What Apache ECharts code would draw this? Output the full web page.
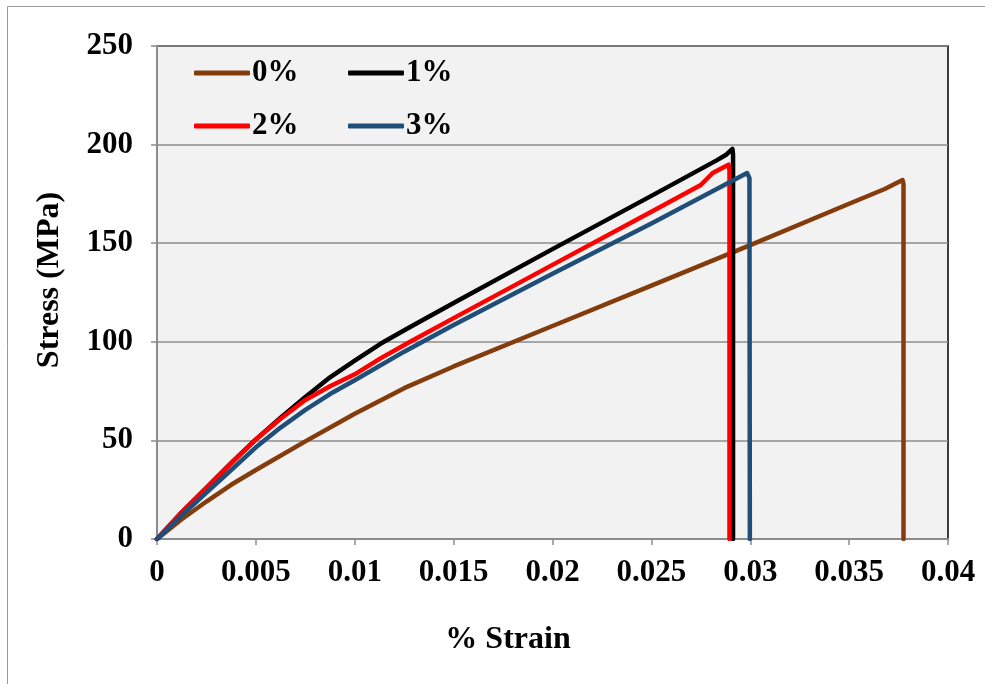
<!DOCTYPE html>
<html>
<head>
<meta charset="utf-8">
<script src="https://cdn.jsdelivr.net/npm/echarts@6/dist/echarts.min.js"></script>
<style>
    html, body { margin: 0; padding: 0; background: #fff; }
    #chart { width: 985px; height: 684px; }
</style>
</head>
<body>
<div id="chart"></div>
<script>
    // values
    const seriesNames = ['0%', '1%', '2%', '3%'];
    const strain0 = [0, 0.00125, 0.0025, 0.00375, 0.005, 0.0075, 0.01, 0.0125, 0.015, 0.02, 0.025, 0.03, 0.035, 0.0368, 0.0377, 0.03775, 0.03775];
    const stress0 = [0, 10, 19, 27.5, 35, 49.5, 63.5, 76.5, 87.5, 108, 128.5, 149, 170, 177.5, 182, 180, 0];
    const strain1 = [0, 0.00125, 0.0025, 0.00375, 0.005, 0.00625, 0.0075, 0.00875, 0.01, 0.0113, 0.0128, 0.015, 0.02, 0.025, 0.0283, 0.0288, 0.0291, 0.02913, 0.02913];
    const stress1 = [0, 13.5, 26, 38.5, 50.5, 61.5, 72, 82, 90.5, 99, 107.5, 119.7, 147, 174, 192, 195, 197.8, 195, 0];
    const strain2 = [0, 0.00125, 0.0025, 0.00375, 0.005, 0.00625, 0.0075, 0.00875, 0.01, 0.0113, 0.0128, 0.015, 0.02, 0.025, 0.0275, 0.0281, 0.0289, 0.02895, 0.02895];
    const stress2 = [0, 13.5, 26, 38.5, 50.5, 61, 70.5, 77.5, 83.5, 91.6, 100, 112, 139, 166, 179.5, 185.6, 189.8, 187, 0];
    const strain3 = [0, 0.00125, 0.0025, 0.00375, 0.005, 0.00625, 0.0075, 0.00875, 0.01, 0.0125, 0.015, 0.02, 0.025, 0.02984, 0.02996, 0.02998];
    const stress3 = [0, 12, 23.5, 35, 46.5, 56.5, 65.5, 73.5, 80.5, 95, 108.5, 134.5, 160, 185.6, 183, 0];
    const colors = ['#843C0C', '#000000', '#FF0000', '#1F4E79'];

    const strains = [strain0, strain1, strain2, strain3];
    const stresses = [stress0, stress1, stress2, stress3];
    const font = "'Liberation Serif', 'Times New Roman', serif";
    const fontSize = 31;

    const myChart = echarts.init(document.getElementById('chart'));

    let legends = seriesNames.map((name, i) => ({
        data: [name],
        left: i % 2 === 0 ? 194 : 348,
        top: i < 2 ? 56 : 109,
        padding: 0,
        icon: 'roundRect',
        itemWidth: 56,
        itemHeight: 5,
        itemStyle: { borderWidth: 0 },
        textStyle: {
            fontFamily: font,
            fontWeight: 'bold',
            fontSize: fontSize,
            color: '#000',
            lineHeight: 34,
            padding: [0, 0, 0, -3]
        }
    }));

    let titleStyle = {
        fontFamily: font,
        fontWeight: 'bold',
        fontSize: 32,
        fill: '#000',
        align: 'center',
        verticalAlign: 'middle'
    };

    let option = {
        animation: false,
        graphic: [{
            type: 'rect',
            shape: { x: 7.5, y: 6.5, width: 1000, height: 700 },
            style: { fill: 'none', stroke: '#9a9a9a', lineWidth: 1 },
            z: -1
        }, {
            type: 'text',
            x: 508,
            y: 640,
            style: Object.assign({ text: '% Strain' }, titleStyle)
        }, {
            type: 'text',
            x: 50,
            y: 280,
            rotation: Math.PI / 2,
            style: Object.assign({ text: 'Stress (MPa)' }, titleStyle)
        }],
        legend: legends,
        grid: {
            left: 157,
            right: 37,
            top: 46,
            bottom: 145,
            show: true,
            backgroundColor: '#F2F2F2',
            borderColor: '#000',
            borderWidth: 1.5
        },
        xAxis: {
            type: 'value',
            min: 0,
            max: 0.04,
            interval: 0.005,
            axisLine: { lineStyle: { color: '#8c8c8c', width: 2 } },
            axisTick: { show: true, length: 6, lineStyle: { color: '#8c8c8c', width: 1.5 } },
            axisLabel: {
                margin: 18,
                fontFamily: font, fontWeight: 'bold', fontSize: fontSize, color: '#000',
                formatter: v => String(parseFloat(v.toFixed(3)))
            },
            splitLine: { show: false }
        },
        yAxis: {
            type: 'value',
            min: 0,
            max: 250,
            interval: 50,
            axisLine: { show: true, lineStyle: { color: '#8c8c8c', width: 2 } },
            axisTick: { show: true, length: 6, lineStyle: { color: '#8c8c8c', width: 1.5 } },
            axisLabel: { margin: 24, fontFamily: font, fontWeight: 'bold', fontSize: fontSize, color: '#000' },
            splitLine: { lineStyle: { color: '#8c8c8c', width: 1.5 } }
        },
        series: seriesNames.map((name, i) => ({
            name: name,
            type: 'line',
            symbol: 'none',
            smooth: false,
            color: colors[i],
            lineStyle: { width: 4.5, color: colors[i], cap: 'round', join: 'round' },
            data: strains[i].map((s, j) => [s, stresses[i][j]])
        }))
    };
    myChart.setOption(option);
</script>
</body>
</html>
